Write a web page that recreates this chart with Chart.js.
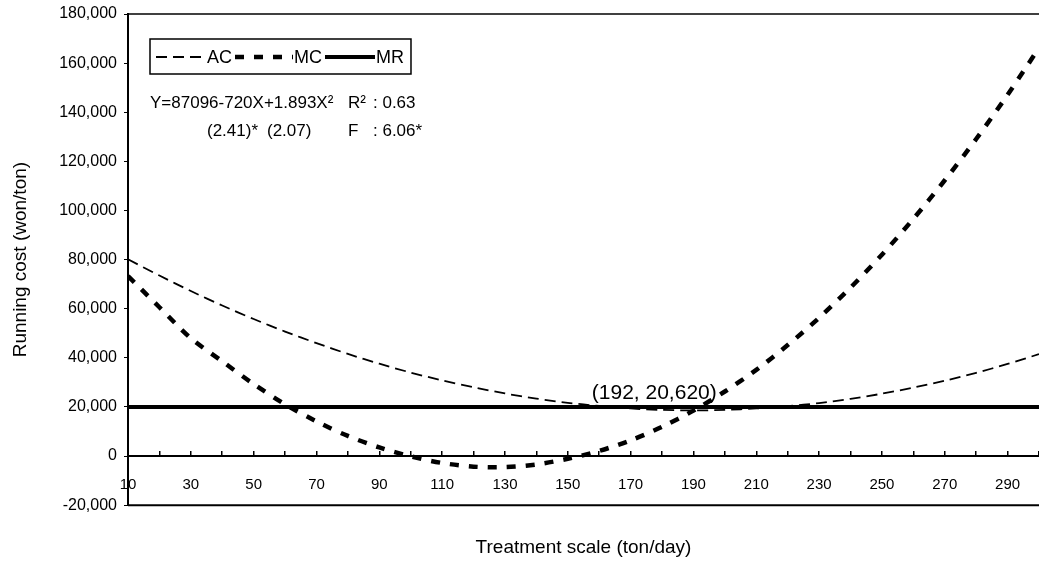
<!DOCTYPE html>
<html lang="en">
<head>
<meta charset="UTF-8">
<title>Running cost vs treatment scale</title>
<script src="https://cdn.jsdelivr.net/npm/chart.js"></script>
<style>
    html, body { margin: 0; padding: 0; background: #fff; }
</style>
</head>
<body>
<canvas id="costChart" width="1039" height="562"></canvas>
<script>
    // values (won/ton), x in ton/day
    const treatScale = [10, 20, 30, 40, 50, 60, 70, 80, 90, 100, 110, 120, 130, 140, 150,
        160, 170, 180, 190, 200, 210, 220, 230, 240, 250, 260, 270, 280, 290, 300];
    const acCost = [80100, 73500, 67200, 61300, 55800, 50700, 46000, 41600, 37600, 34000,
        30800, 28000, 25500, 23400, 21700, 20400, 19400, 18800, 18600, 18800,
        19400, 20300, 21600, 23300, 25400, 27900, 30700, 33900, 37500, 41500];
    const mcCost = [73300, 60600, 48000, 38600, 29300, 21100, 14100, 8200, 3500, -100,
        -2800, -4300, -4500, -3400, -1100, 2100, 6400, 11900, 18500, 26300,
        35100, 45200, 56300, 68600, 82000, 96600, 112300, 129100, 147100, 166200];
    const mrCost = [20000, 20000, 20000, 20000, 20000, 20000, 20000, 20000, 20000, 20000,
        20000, 20000, 20000, 20000, 20000, 20000, 20000, 20000, 20000, 20000,
        20000, 20000, 20000, 20000, 20000, 20000, 20000, 20000, 20000, 20000];
    const xLabelTicks = [10, 30, 50, 70, 90, 110, 130, 150, 170, 190, 210, 230, 250, 270, 290];
    const seriesNames = ['AC', 'MC', 'MR'];
    const optimum = { x: 192, y: 20620, text: '(192, 20,620)' };

    Chart.defaults.font.family = '"Liberation Sans", Arial, sans-serif';
    Chart.defaults.color = '#000';

    function toPoints(ys) {
        return treatScale.map(function (x, i) { return { x: x, y: ys[i] }; });
    }

    // frame lines, legend box, regression text and the optimum label
    const extras = {
        id: 'extras',
        afterDraw(chart) {
            const ctx = chart.ctx;
            const area = chart.chartArea;
            ctx.save();
            ctx.strokeStyle = '#000';
            ctx.lineWidth = 1.5;
            ctx.beginPath();
            ctx.moveTo(area.left, area.top);
            ctx.lineTo(area.right, area.top);
            ctx.stroke();
            ctx.lineWidth = 2;
            ctx.beginPath();
            ctx.moveTo(area.left, area.bottom);
            ctx.lineTo(area.right, area.bottom);
            ctx.stroke();

            // legend
            ctx.font = '18px "Liberation Sans", Arial, sans-serif';
            ctx.textBaseline = 'middle';
            ctx.textAlign = 'left';
            let cur = 156;
            const ly = 57;
            const sampleLen = [50, 58, 50];
            chart.data.datasets.forEach(function (ds, i) {
                ctx.setLineDash(ds.borderDash || []);
                ctx.lineWidth = ds.borderWidth;
                ctx.beginPath();
                ctx.moveTo(cur, ly);
                ctx.lineTo(cur + sampleLen[i], ly);
                ctx.stroke();
                ctx.setLineDash([]);
                ctx.fillText(ds.label, cur + sampleLen[i] + 1, ly + 1);
                cur += sampleLen[i] + 1 + ctx.measureText(ds.label).width + 3;
            });
            ctx.lineWidth = 1.5;
            ctx.strokeRect(150, 39, cur + 4 - 150, 35);

            // regression
            ctx.font = '17px "Liberation Sans", Arial, sans-serif';
            ctx.fillText('Y=87096-720X+1.893X\u00B2', 150, 103);
            ctx.fillText('R\u00B2', 348, 103);
            ctx.fillText(': 0.63', 373, 103);
            ctx.fillText('(2.41)*', 207, 131);
            ctx.fillText('(2.07)', 267, 131);
            ctx.fillText('F', 348, 131);
            ctx.fillText(': 6.06*', 373, 131);

            // optimum label
            const xs = chart.scales.x, ys = chart.scales.y;
            ctx.font = '21px "Liberation Sans", Arial, sans-serif';
            ctx.textAlign = 'right';
            ctx.textBaseline = 'alphabetic';
            ctx.fillText(optimum.text, xs.getPixelForValue(optimum.x) + 17, ys.getPixelForValue(optimum.y) - 6);
            ctx.restore();
        }
    };

    new Chart(document.getElementById('costChart'), {
        type: 'line',
        data: {
            datasets: [{
                label: seriesNames[0],
                data: toPoints(acCost),
                borderColor: '#000',
                borderWidth: 1.8,
                borderDash: [11, 6],
                pointRadius: 0,
                tension: 0.3,
                fill: false
            }, {
                label: seriesNames[1],
                data: toPoints(mcCost),
                borderColor: '#000',
                borderWidth: 4.5,
                borderDash: [9, 10],
                pointRadius: 0,
                tension: 0.3,
                fill: false
            }, {
                label: seriesNames[2],
                data: toPoints(mrCost),
                borderColor: '#000',
                borderWidth: 4,
                pointRadius: 0,
                tension: 0,
                fill: false
            }]
        },
        options: {
            responsive: false,
            animation: false,
            layout: { padding: { left: 0, top: 14, right: 0, bottom: 0 } },
            plugins: {
                legend: { display: false },
                tooltip: { enabled: false }
            },
            scales: {
                x: {
                    type: 'linear',
                    min: 10,
                    max: 300,
                    position: { y: 0 },
                    afterBuildTicks: function (s) {
                        s.ticks = treatScale.map(function (v) { return { value: v }; });
                    },
                    afterFit: function (s) {
                        s.height = 0;
                        s.paddingLeft = 0;
                        s.paddingRight = 0;
                    },
                    ticks: {
                        autoSkip: false,
                        maxRotation: 0,
                        padding: 26,
                        font: { size: 15 },
                        callback: function (v) { return xLabelTicks.includes(v) ? String(v) : ''; }
                    },
                    grid: { drawOnChartArea: false, drawTicks: true, tickLength: -6, color: '#000', lineWidth: 1.5 },
                    border: { display: true, color: '#000', width: 2 }
                },
                x2: {
                    type: 'linear',
                    min: 10,
                    max: 300,
                    position: 'bottom',
                    ticks: { display: false },
                    grid: { display: false, drawTicks: false },
                    border: { display: false },
                    title: {
                        display: true,
                        text: 'Treatment scale (ton/day)',
                        font: { size: 19 },
                        padding: { top: 31, bottom: 3 }
                    }
                },
                y: {
                    type: 'linear',
                    min: -20000,
                    max: 180000,
                    position: 'left',
                    afterFit: function (s) {
                        s.width = 128;
                        s.paddingTop = 0;
                        s.paddingBottom = 0;
                    },
                    ticks: { stepSize: 20000, font: { size: 16 }, padding: 7 },
                    grid: { drawOnChartArea: false, tickLength: 4, color: '#000' },
                    border: { color: '#000', width: 2 },
                    title: {
                        display: true,
                        text: 'Running cost (won/ton)',
                        font: { size: 19 },
                        padding: { top: 9, bottom: 4 }
                    }
                }
            }
        },
        plugins: [extras]
    });
</script>
</body>
</html>
